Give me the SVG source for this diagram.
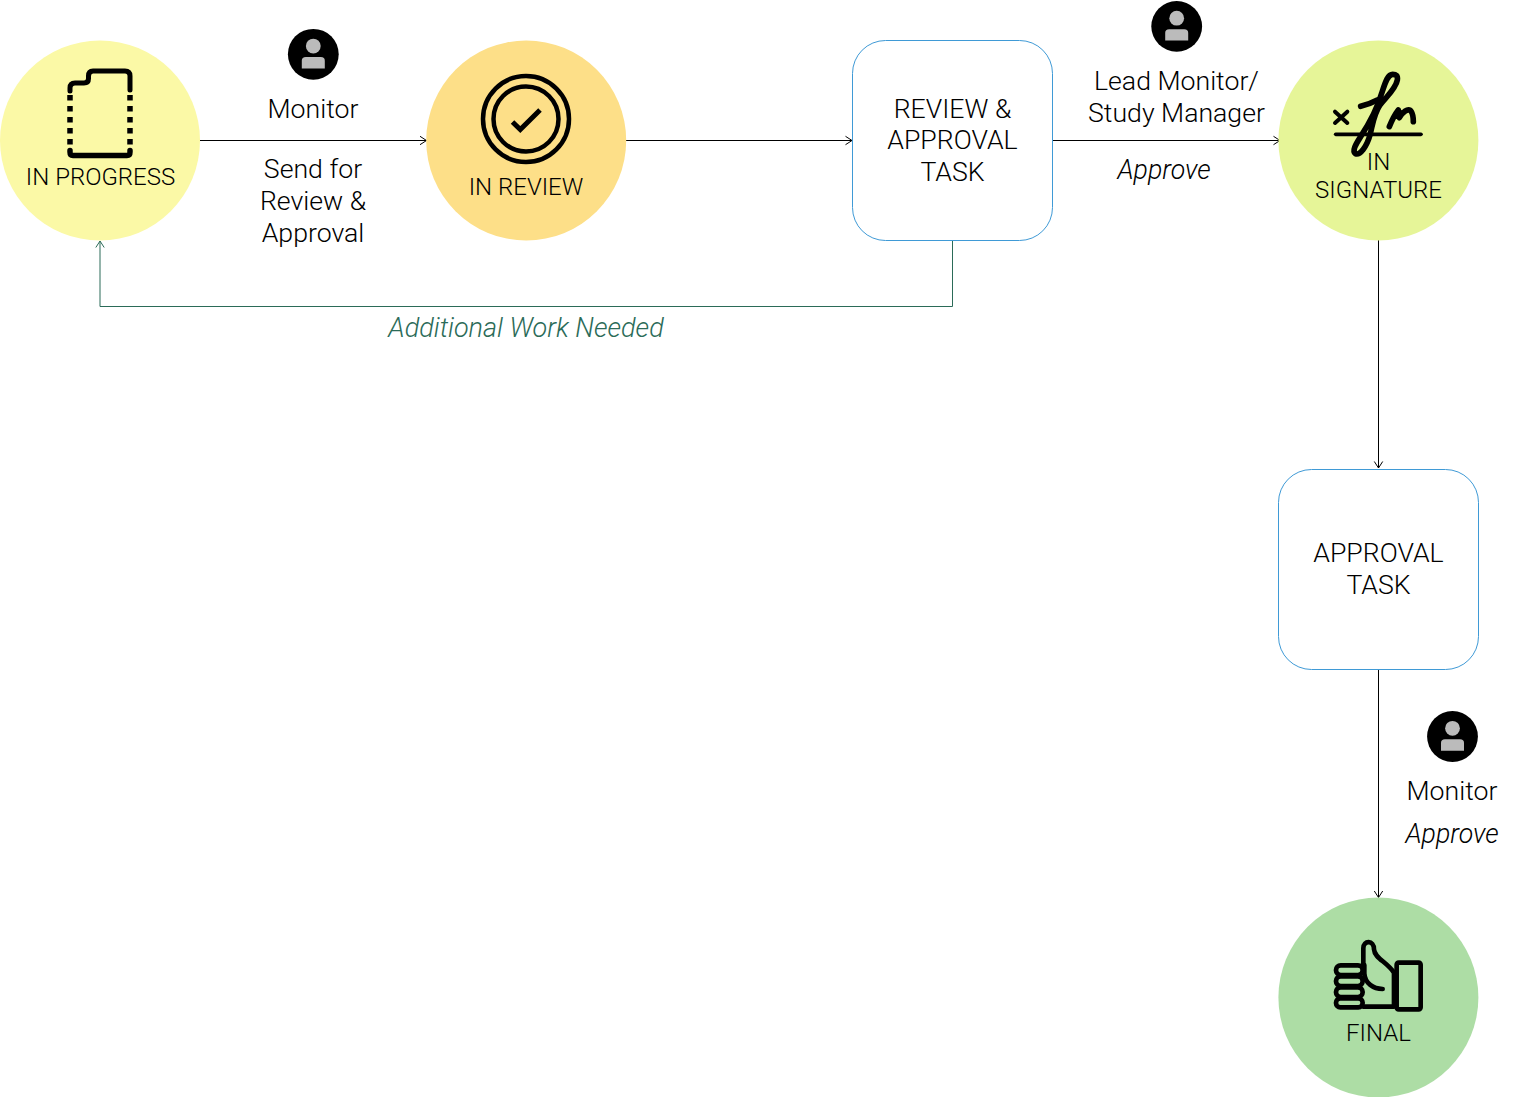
<svg xmlns="http://www.w3.org/2000/svg" xmlns:xlink="http://www.w3.org/1999/xlink" width="1537" height="1097" viewBox="0 0 1537 1097">
<style>
text{font-family:Roboto,"Liberation Sans",sans-serif;font-weight:300;fill:#000;text-anchor:middle}
.n{font-size:24px}
.t{font-size:26.67px}
.l{font-size:26.67px}
.i{font-style:italic}
.g{fill:#2b6b58;font-size:27px}
.box{fill:#fff;stroke:#3f9ad6;stroke-width:1}
.ic{fill:none;stroke:#000;stroke-linecap:round;stroke-linejoin:round}
.con{fill:none;stroke:#000;stroke-width:1}
.ret{fill:none;stroke:#2b6b58;stroke-width:1}
</style>
<defs>
<marker id="a" markerUnits="userSpaceOnUse" markerWidth="12" markerHeight="12" refX="9" refY="6" orient="auto"><path d="M2.500 1.800 L9 6 L2.500 10.200" fill="none" stroke="#000" stroke-width="1"/></marker>
<marker id="ag" markerUnits="userSpaceOnUse" markerWidth="12" markerHeight="12" refX="9" refY="6" orient="auto"><path d="M2.500 1.800 L9 6 L2.500 10.200" fill="none" stroke="#2b6b58" stroke-width="1"/></marker>
<g id="person"><circle r="25.400" fill="#000"/><circle cy="-8.200" r="7.400" fill="#bbb"/><path d="M-11.500 14.200V6.500Q-11.500 2.800-7.500 2.800H7.500Q11.500 2.800 11.500 6.500V14.200Z" fill="#bbb"/></g>
</defs>
<g id="connectors">
<path class="con" d="M200 140.500H426.500" marker-end="url(#a)"/>
<path class="con" d="M626 140.500H852" marker-end="url(#a)"/>
<path class="con" d="M1052 140.500H1280" marker-end="url(#a)"/>
<path class="con" d="M1378.500 240V468" marker-end="url(#a)"/>
<path class="con" d="M1378.500 669V897.500" marker-end="url(#a)"/>
<path class="ret" d="M952.500 240V306.500H100V241" marker-end="url(#ag)"/>
</g>
<g id="in-progress">
<circle cx="100" cy="140.500" r="100" fill="#fbf9a6"/>
<path class="ic" stroke-width="5" d="M70 91V88Q70 83 75 83H84Q88.500 83 88.500 78.500V76Q88.500 71 93 71H125Q130 71 130 76V90"/>
<path d="M70 95V145M130 95V145" fill="none" stroke="#000" stroke-width="5.500" stroke-dasharray="5.600 5.400"/>
<path class="ic" stroke-width="5.500" stroke-linecap="butt" d="M70 150.500V152Q70 155.500 73 155.500H127Q130 155.500 130 152V150.500"/>
<text class="n" x="100.500" y="185">IN PROGRESS</text>
</g>
<g id="in-review">
<circle cx="526.200" cy="140.500" r="100" fill="#fddf88"/>
<circle class="ic" cx="526" cy="119" r="43" stroke-width="4.500"/>
<circle class="ic" cx="526" cy="119" r="32.500" stroke-width="4.500"/>
<path d="M512.500 122L520.300 129.500L540 110" fill="none" stroke="#000" stroke-width="5"/>
<text class="n" x="526" y="195">IN REVIEW</text>
</g>
<g id="review-approval-task">
<rect class="box" x="852.500" y="40.500" width="200" height="200" rx="33"/>
<text class="t" x="952.500" y="117.500">REVIEW &amp;</text>
<text class="t" x="952.500" y="149.200">APPROVAL</text>
<text class="t" x="952.500" y="181.200">TASK</text>
</g>
<g id="in-signature">
<circle cx="1378.400" cy="140.500" r="100" fill="#e6f598"/>
<g transform="translate(1330 65) scale(.3333)">
<path class="ic" stroke-width="12" stroke-linecap="butt" d="M15 140L52 174M52 140L15 174"/>
<path class="ic" stroke-width="11" d="M17 208H273"/>
<path class="ic" stroke-width="17" d="M92 124C108 120 125 114 142 105"/>
<path class="ic" stroke-width="17" d="M188 28C172 28 165 55 155 85C145 120 118 175 92 215C76 240 66 258 76 266C90 272 110 245 120 210C128 180 130 150 150 120C170 95 198 70 202 45C204 32 198 28 188 28Z"/>
<path class="ic" stroke-width="17" d="M178 185C186 165 195 148 205 135C210 145 206 155 208 158C215 145 235 125 244 140C250 150 250 160 250 170"/>
</g>
<text class="n" x="1378.500" y="170">IN</text>
<text class="n" x="1378.500" y="198">SIGNATURE</text>
</g>
<g id="approval-task">
<rect class="box" x="1278.500" y="469.500" width="200" height="200" rx="33"/>
<text class="t" x="1378.500" y="562">APPROVAL</text>
<text class="t" x="1378.500" y="594">TASK</text>
</g>
<g id="final">
<circle cx="1378.400" cy="997.500" r="100" fill="#addda5"/>
<g transform="translate(1270 890) scale(.3333)" class="ic" stroke-width="14">
<rect x="380" y="218" width="72" height="140" rx="6"/>
<rect x="198" y="226" width="80" height="29" rx="14"/>
<rect x="198" y="259" width="80" height="29" rx="14"/>
<rect x="198" y="292" width="80" height="29" rx="14"/>
<rect x="198" y="325" width="80" height="27" rx="13"/>
<path d="M280 225V175C280 150 312 150 312 178C314 205 350 215 372 248V350H280"/>
<path d="M283 225V250C285 280 310 297 338 297"/>
</g>
<text class="n" x="1378.500" y="1041">FINAL</text>
</g>
<g id="monitor-send">
<use xlink:href="#person" href="#person" x="313.300" y="54.300"/>
<text class="l" x="313" y="118">Monitor</text>
<text class="l" x="313" y="178.300">Send for</text>
<text class="l" x="313" y="210.300">Review &amp;</text>
<text class="l" x="313" y="242.300">Approval</text>
</g>
<g id="lead-monitor">
<use xlink:href="#person" href="#person" x="1176.700" y="26.400"/>
<text class="l" x="1176.500" y="90">Lead Monitor/</text>
<text class="l" x="1176.500" y="122">Study Manager</text>
<text class="l i" x="1164" y="179">Approve</text>
</g>
<g id="monitor-approve">
<use xlink:href="#person" href="#person" x="1452.500" y="736.500"/>
<text class="l" x="1452" y="800">Monitor</text>
<text class="l i" x="1452" y="843">Approve</text>
</g>
<text class="i g" x="526" y="337">Additional Work Needed</text>
</svg>
